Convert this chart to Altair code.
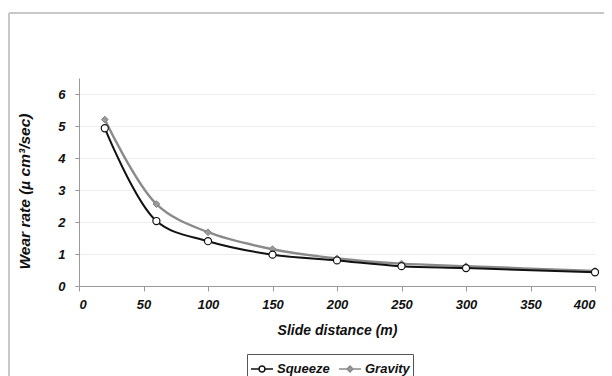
import altair as alt
import pandas as pd

distance = [20, 60, 100, 150, 200, 250, 300, 400]
squeeze = [4.93, 2.03, 1.40, 0.98, 0.80, 0.62, 0.56, 0.43]
gravity = [5.20, 2.56, 1.68, 1.15, 0.86, 0.70, 0.62, 0.47]
series_names = ["Squeeze", "Gravity"]
y_ticks = [0, 1, 2, 3, 4, 5, 6]
x_ticks = [0, 50, 100, 150, 200, 250, 300, 350, 400]

rows = []
for d, s, g in zip(distance, squeeze, gravity):
    rows.append({"distance": d, "rate": s, "series": "Squeeze"})
    rows.append({"distance": d, "rate": g, "series": "Gravity"})
df = pd.DataFrame(rows)

FONT = "Liberation Sans"

x_enc = alt.X("distance:Q", scale=alt.Scale(domain=[0, 400], nice=False),
              axis=alt.Axis(values=x_ticks, title="Slide distance (m)", grid=False,
                            tickSize=5, labelPadding=7, titlePadding=12))
y_enc = alt.Y("rate:Q", scale=alt.Scale(domain=[0, 6.5], nice=False),
              axis=alt.Axis(values=y_ticks, title="Wear rate (µ cm³/sec)", grid=True,
                            tickSize=4, labelPadding=10, titleFontSize=15.5,
                            titleX=-55, titleY=113, titleBaseline="middle"))

base = alt.Chart(df)

sq = base.transform_filter(alt.datum.series == "Squeeze")
gr = base.transform_filter(alt.datum.series == "Gravity")

line_g = gr.mark_line(color="#8a8a8a", strokeWidth=2.4, interpolate="catmull-rom").encode(x=x_enc, y=y_enc)
line_s = sq.mark_line(color="#111111", strokeWidth=2.0, interpolate="catmull-rom").encode(x=x_enc, y=y_enc)
pt_g = gr.mark_point(shape="diamond", filled=True, fill="#9a9a9a", stroke="#808080",
                     strokeWidth=1, size=45, opacity=1).encode(x=x_enc, y=y_enc)
pt_s = sq.mark_point(shape="circle", filled=True, fill="white", stroke="#111111",
                     strokeWidth=1.2, size=50, opacity=1).encode(x=x_enc, y=y_enc)

circle_sym = ("M-1,0L-0.3,0M0.3,0L1,0"
              "M-0.27,0A0.27,0.27 0 1,1 0.27,0A0.27,0.27 0 1,1 -0.27,0Z")
diamond_sym = ("M-1,0L-0.3,0M0.3,0L1,0"
               "M-0.27,0L0,-0.27L0.27,0L0,0.27Z")

leg = alt.Legend(title=None, orient="none", direction="horizontal",
                 legendX=168, legendY=276, symbolSize=484,
                 symbolOpacity=1, symbolStrokeWidth=1.5,
                 labelFont=FONT, labelFontSize=13, labelFontWeight="bold",
                 labelFontStyle="italic", labelColor="#111",
                 labelOffset=3, columnPadding=6, padding=3,
                 strokeColor="#555", fillColor="white")

legend_layer = base.mark_point(opacity=0, filled=True, size=484).encode(
    x=x_enc, y=y_enc,
    shape=alt.Shape("series:N", scale=alt.Scale(domain=series_names, range=[circle_sym, diamond_sym]),
                    legend=leg),
    stroke=alt.Stroke("series:N", scale=alt.Scale(domain=series_names, range=["#111111", "#8a8a8a"]),
                      legend=leg),
    fill=alt.Fill("series:N", scale=alt.Scale(domain=series_names, range=["white", "#9a9a9a"]),
                  legend=leg),
)

border_data = alt.Data(values=[{"k": 1}])
border_top = alt.Chart(border_data).mark_rule(color="#c8c8c8", strokeWidth=2).encode(
    x=alt.value(-70), x2=alt.value(600), y=alt.value(-65))
border_left = alt.Chart(border_data).mark_rule(color="#c8c8c8", strokeWidth=2).encode(
    x=alt.value(-70), y=alt.value(-65), y2=alt.value(320))

chart = alt.layer(border_top, border_left, line_g, line_s, pt_g, pt_s, legend_layer).properties(
    width=516, height=208,
    autosize=alt.AutoSizeParams(type="none"),
    padding={"left": 71, "top": 70, "right": 9, "bottom": 90},
    background="white",
).configure_view(stroke=None).configure_axis(
    labelFont=FONT, labelFontSize=13, labelFontWeight="bold", labelFontStyle="italic",
    labelColor="#111", titleFont=FONT, titleFontSize=14, titleFontWeight="bold",
    titleFontStyle="italic", titleColor="#111", domainColor="#999", tickColor="#999",
    gridColor="#ededed", domainWidth=1, tickWidth=1,
)

chart.save("out.html", embed_options={"renderer": "svg", "actions": False})
